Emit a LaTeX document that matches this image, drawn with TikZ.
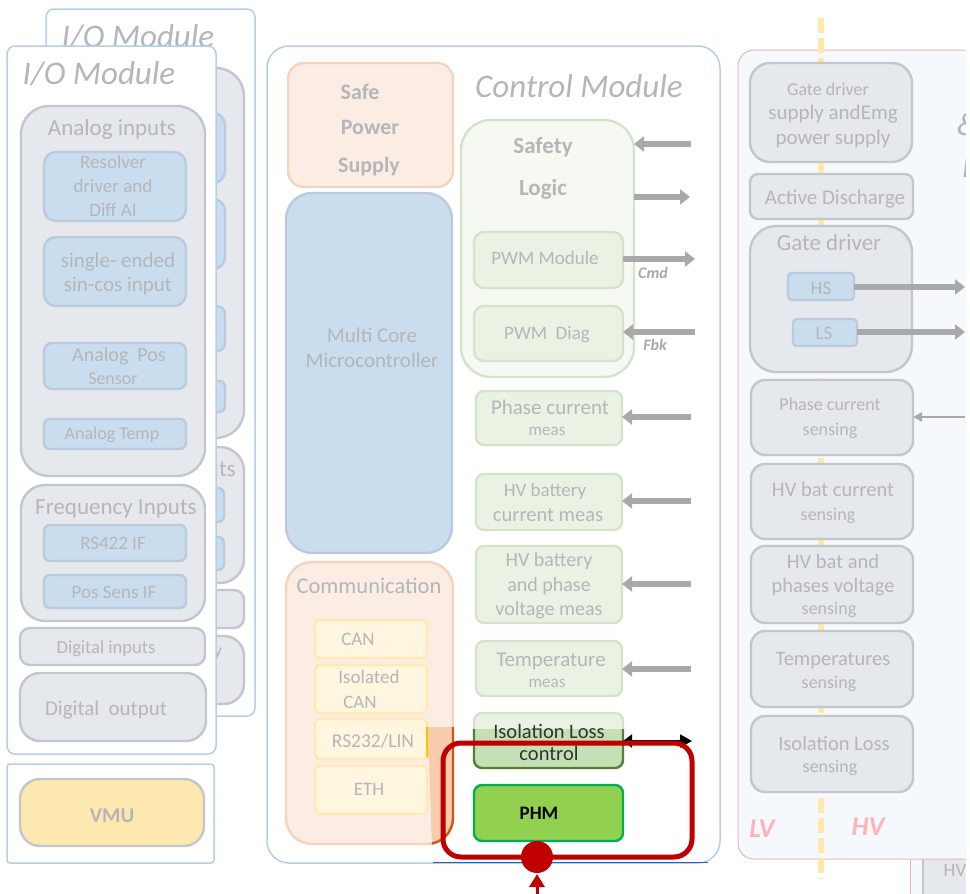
\documentclass[tikz,border=0pt]{standalone}
\usepackage{fontspec}
\setmainfont{Carlito}
\usetikzlibrary{arrows.meta}
\definecolor{txg}{HTML}{B4B6B9}
\definecolor{modb}{HTML}{B5CEEA}
\definecolor{grayf}{HTML}{E5E8ED}
\definecolor{grayd}{HTML}{C3C7CD}
\definecolor{bluef}{HTML}{CADDEF}
\definecolor{blued}{HTML}{BBCBDD}
\definecolor{orf}{HTML}{FBEDE4}
\definecolor{ord}{HTML}{F6D3BC}
\definecolor{yef}{HTML}{FFF6E0}
\definecolor{yed}{HTML}{FFEBB0}
\definecolor{grf}{HTML}{EAF2E4}
\definecolor{grd}{HTML}{D5E3CB}
\definecolor{arrg}{HTML}{A9A9A9}
\definecolor{redc}{HTML}{C00000}
\definecolor{vmuf}{HTML}{FDE8AF}
\definecolor{panf}{HTML}{F5F8FD}
\definecolor{pand}{HTML}{EDB5B5}
\definecolor{lvc}{HTML}{FFB3B3}
\definecolor{ovf}{HTML}{F8CBAD}
\definecolor{ovd}{HTML}{C55A11}
\definecolor{isof}{HTML}{C5E0B4}
\definecolor{isod}{HTML}{548235}
\definecolor{phmf}{HTML}{92D050}
\definecolor{phmd}{HTML}{00B050}
\definecolor{safef}{HTML}{F5F9F2}
\definecolor{dashc}{HTML}{FFE8A8}
\definecolor{blueln}{HTML}{1F5FBF}
\definecolor{amber}{HTML}{FFC000}
\tikzset{
  boxbase/.style={draw,line width=2.4pt,inner sep=0pt,outer sep=0pt},
  graybox/.style={boxbase,fill=grayf,draw=grayd},
  bluebox/.style={boxbase,fill=bluef,draw=blued},
  orbox/.style={boxbase,fill=orf,draw=ord},
  yebox/.style={boxbase,fill=yef,draw=yed},
  grbox/.style={boxbase,fill=grf,draw=grd},
  modbox/.style={boxbase,line width=1.5pt,fill=white,draw=modb},
  panbox/.style={boxbase,line width=1pt,draw=pand,fill=panf},
  lbl/.style={align=center,inner sep=0pt,outer sep=0pt,text=txg},
  thickarr/.style={line width=5.4pt,draw=arrg,-{Triangle[length=10pt,width=15pt]}},
}
\newcounter{tc}
\newcommand\bx[7]{\node[#6,rounded corners=#7pt,minimum width={(#4-#2)*1pt},minimum height={(#5-#3)*1pt}] (#1) at ({(#2+#4)/2},{(#3+#5)/2}) {};}
% single line: fixed box height, so words with and without descenders sit alike
\newcommand\tx[5][]{\stepcounter{tc}\node[lbl,font=\fontsize{#4}{#4}\selectfont,text height={0.88*#4*1pt},text depth={0.2*#4*1pt},#1] (t\thetc) at (#2,#3) {#5};}
% several lines: size, line distance
\newcommand\txm[6][]{\stepcounter{tc}\node[lbl,font=\fontsize{#4}{#5}\selectfont,#1] (t\thetc) at (#2,#3) {#6};}
\begin{document}
\begin{tikzpicture}[x=1pt,y=-1pt]
\useasboundingbox (0,0) rectangle (970,894);
\fill[white] (0,0) rectangle (970,894);
\clip (0,0) rectangle (965.5,894);
% back I/O module
\bx{iobk}{46}{9}{255}{716}{modbox}{8}
\tx{138}{36}{33}{\itshape I/O Module}
\bx{anbk}{60}{68}{244}{438}{graybox}{28}
\bx{b1}{83}{113}{225}{183}{bluebox}{12}
\bx{b2}{83}{199}{225}{269}{bluebox}{12}
\bx{b3}{83}{306}{225}{351}{bluebox}{8}
\bx{b4}{83}{381}{225}{412}{bluebox}{6}
\bx{frbk}{60}{447}{244}{583}{graybox}{24}
\tx{155}{469}{23}{Frequency Inputs}
\bx{b5}{83}{488}{224}{522}{bluebox}{6}
\bx{b6}{83}{537}{224}{570}{bluebox}{6}
\bx{dibk}{59}{590}{244}{628}{graybox}{10}
\bx{dobk}{59}{636}{244}{704}{graybox}{20}
\tx{218}{650}{18}{y}
% front I/O module
\bx{iofr}{7}{46}{216}{754}{modbox}{8}
\tx{99}{73}{33}{\itshape I/O Module}
\bx{an}{21}{106}{205}{476}{graybox}{28}
\tx{112}{128}{23}{Analog inputs}
\bx{res}{44}{152}{186}{221}{bluebox}{12}
\txm{113}{186}{19}{24}{Resolver\\driver and\\Diff AI}
\bx{sin}{44}{237}{186}{306}{bluebox}{12}
\txm{118}{274}{21}{24}{single- ended\\sin-cos input}
\bx{pos}{44}{343}{186}{389}{bluebox}{8}
\tx{119}{355}{20}{Analog\ \ Pos}
\tx{113}{378}{18}{Sensor}
\bx{tmp}{44}{419}{186}{449}{bluebox}{6}
\tx{112}{433}{18}{Analog Temp}
\bx{fr}{21}{485}{205}{621}{graybox}{24}
\tx{116}{507}{23}{Frequency Inputs}
\bx{rs}{44}{525}{186}{561}{bluebox}{6}
\tx{113}{543}{19}{RS422 IF}
\bx{ps}{44}{575}{186}{608}{bluebox}{6}
\tx{114}{592}{19}{Pos Sens IF}
\bx{di}{20}{628}{205}{665}{graybox}{10}
\tx{106}{647}{18.5}{Digital inputs}
\bx{dout}{20}{673}{206}{741}{graybox}{20}
\tx{106}{708}{21}{Digital\ \ output}
% VMU
\bx{vmuo}{7}{764}{214}{863}{modbox}{3}
\bx{vmu}{20}{779}{204}{846}{boxbase,fill=vmuf,draw=grayd}{20}
\tx{112}{815}{21}{\bfseries VMU}
% control module
\bx{ctl}{267}{46}{720}{863}{modbox}{22}
\tx{579}{86}{33}{\itshape Control Module}
\coordinate (bl1) at (433,862.5);
\coordinate (bl2) at (708,862.5);
\draw[line width=1.5pt,draw=blueln] (bl1) -- (bl2);
\bx{safe}{288}{63}{453}{187}{orbox}{16}
\tx{360}{92}{22}{\bfseries Safe}
\tx{370}{127}{22}{\bfseries Power}
\tx{369}{165}{22}{\bfseries Supply}
\bx{mc}{286}{193}{452}{553}{bluebox}{26}
\txm{372}{348}{21}{25}{Multi Core\\Microcontroller}
\bx{com}{286}{562}{453}{844}{orbox}{26}
\begin{scope}
\clip (428,727) -- (460,727) -- (460,850) -- (432,846) -- cycle;
\node[boxbase,rounded corners=26pt,minimum width=167pt,minimum height=282pt,fill=ovf,draw=ovd] (comov) at (369.5,703) {};
\end{scope}
\tx{369}{586}{22.5}{Communication}
\bx{can}{315}{620}{427}{658}{yebox}{5}
\tx{358}{639}{19}{CAN}
\bx{ican}{315}{665}{427}{713}{yebox}{5}
\tx{369}{677}{19}{Isolated}
\tx{360}{702}{19}{CAN}
\bx{rsl}{315}{719}{427}{759}{yebox}{5}
\tx{373}{741}{19.5}{RS232/LIN}
\coordinate (yt) at (427,727);
\coordinate (yb) at (427.5,757);
\draw[line width=2.2pt,draw=amber] (yt) -- (yb);
\bx{eth}{315}{766}{427}{814}{yebox}{5}
\tx{369}{789}{19}{ETH}
\bx{sl}{461}{120}{634}{377}{boxbase,fill=safef,draw=grd}{30}
\tx{543}{146}{23}{\bfseries Safety}
\tx{543}{188}{23}{\bfseries Logic}
\bx{pwm}{474}{232}{623}{288}{grbox}{10}
\tx{545}{258}{19}{PWM Module}
\bx{pwd}{474}{306}{623}{361}{grbox}{10}
\tx{547}{333}{19}{PWM\ \ Diag}
\bx{ph}{476}{391}{622}{445}{grbox}{8}
\tx{550}{407}{21}{Phase current}
\tx{547}{430}{17}{meas}
\bx{bat}{476}{474}{622}{530}{grbox}{8}
\tx{545}{490}{19}{HV battery}
\tx{548}{515}{20.5}{current meas}
\bx{vol}{476}{546}{622}{623}{grbox}{8}
\txm{549}{586}{20}{24.5}{HV battery\\and phase\\voltage meas}
\bx{tem}{476}{641}{622}{696}{grbox}{8}
\tx{551}{659}{21}{Temperature}
\tx{547}{682}{17}{meas}
\bx{iso}{474}{713}{623}{768}{grbox}{8}
\begin{scope}
\clip (460,729) rectangle (640,775);
\node[boxbase,rounded corners=8pt,minimum width=149pt,minimum height=55pt,fill=isof,draw=isod] (isoov) at (548.5,740.5) {};
\end{scope}
\txm[text=black!80]{549}{742}{20.5}{22}{Isolation Loss\\control}
\bx{phm}{474}{785}{623}{841}{boxbase,fill=phmf,draw=phmd}{8}
\tx[text=black]{539}{813}{19}{\bfseries PHM}
% control arrows
\coordinate (a1) at (691,144);
\coordinate (a2) at (690,197);
\coordinate (a3) at (695,259);
\coordinate (a4) at (695,332);
\coordinate (a5) at (691,417);
\coordinate (a6) at (691,501);
\coordinate (a7) at (691,584);
\coordinate (a8) at (691,669);
\coordinate (a9) at (692,741);
\draw[thickarr] (a1) -- (a1 -| sl.east);
\draw[thickarr] (a2 -| sl.east) -- (a2);
\draw[thickarr] (a3 -| pwm.east) -- (a3);
\draw[thickarr] (a4) -- (a4 -| pwd.east);
\draw[thickarr] (a5) -- (a5 -| ph.east);
\draw[thickarr] (a6) -- (a6 -| bat.east);
\draw[thickarr] (a7) -- (a7 -| vol.east);
\draw[thickarr] (a8) -- (a8 -| tem.east);
\draw[line width=2pt,black,{Triangle[length=9pt,width=13pt]}-{Triangle[length=12pt,width=13pt]}] (a9 -| iso.east) -- (a9);
\tx[text=arrg]{653}{273}{16}{\bfseries\itshape Cmd}
\tx[text=arrg]{655}{345}{16}{\bfseries\itshape Fbk}
% right panel
\node[panbox,minimum width=60pt,minimum height=60pt] (hvbk) at (940,880) {};
\bx{hvin}{923}{850}{1000}{920}{graybox}{0}
\tx{955}{870}{19}{HV}
\bx{pan}{738}{50}{1010}{859}{panbox}{16}
\coordinate (dt) at (821,18);
\coordinate (db) at (821,879);
\draw[line width=6pt,draw=dashc,dash pattern=on 15pt off 5pt] (dt) -- (db);
\tx{968}{124}{33}{\itshape\&}
\tx{966}{166}{33}{\itshape I}
\bx{gs}{750}{63}{912}{162}{graybox}{20}
\tx{828}{89}{18}{Gate driver}
\txm{833}{126}{21}{25}{supply andEmg\\power supply}
\bx{ad}{750}{174}{913}{219}{graybox}{8}
\tx{835}{197}{21}{Active Discharge}
\bx{gd}{750}{226}{912}{372}{graybox}{26}
\tx{829}{243}{23}{Gate driver}
\bx{hs}{788}{273}{854}{300}{bluebox}{4}
\tx{821}{288}{19}{HS}
\bx{ls}{793}{319}{857}{346}{bluebox}{4}
\tx{824}{333}{19}{LS}
\bx{pcs}{751}{380}{913}{455}{graybox}{14}
\txm{830}{418.5}{18}{25}{Phase current\\sensing}
\bx{bcs}{751}{464}{913}{539}{graybox}{14}
\tx{833}{490}{20.5}{HV bat current}
\tx{828}{514}{18}{sensing}
\bx{bvs}{751}{546}{913}{623}{graybox}{14}
\tx{833}{562}{20.5}{HV bat and}
\tx{833}{586}{20.5}{phases voltage}
\tx{829}{608}{18}{sensing}
\bx{ts}{751}{631}{913}{707}{graybox}{14}
\tx{833}{659}{20.5}{Temperatures}
\tx{829}{682}{18}{sensing}
\bx{ils}{751}{716}{913}{792}{graybox}{14}
\tx{834}{744}{20.5}{Isolation Loss}
\tx{830}{766}{18}{sensing}
\tx[text=lvc]{762}{828}{27}{\bfseries\itshape LV}
\tx[text=lvc]{868}{826}{27}{\bfseries\itshape HV}
\coordinate (r1) at (965,287);
\coordinate (r2) at (965,332);
\coordinate (r3) at (965,417);
\draw[thickarr] (hs.east |- r1) -- (r1);
\draw[thickarr] (ls.east |- r2) -- (r2);
\draw[line width=2.6pt,draw=arrg,-{Triangle[length=9pt,width=9pt]}] (r3) -- (r3 -| pcs.east);
% red highlight
\bx{hl}{443}{743}{692}{857}{draw,line width=5pt,draw=redc,inner sep=0pt,outer sep=0pt}{18}
\node[circle,fill=redc,minimum size=32pt,inner sep=0pt] (dot) at (537,857) {};
\coordinate (rb) at (537,898);
\coordinate (rt) at (537,874);
\draw[line width=3pt,draw=redc,-{Triangle[length=13pt,width=15pt]}] (rb) -- (rt);
\end{tikzpicture}
\end{document}
